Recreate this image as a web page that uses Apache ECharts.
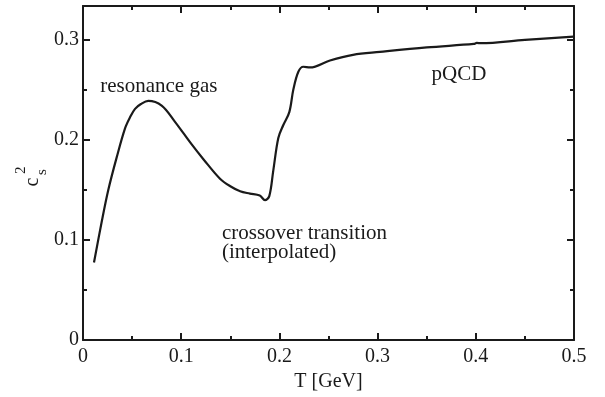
<!DOCTYPE html>
<html>
<head>
<meta charset="utf-8">
<script src="https://cdn.jsdelivr.net/npm/echarts@6/dist/echarts.min.js"></script>
<style>html,body{margin:0;padding:0;background:#fff}#c{width:605px;height:397px}</style>
</head>
<body>
<div id="c"></div>
<script>
// Data
const temperature = [0.0112, 0.019, 0.0258, 0.0343, 0.0428, 0.048, 0.053, 0.059, 0.0665, 0.0801, 0.0937, 0.1107, 0.123, 0.1395, 0.150, 0.16, 0.170, 0.180, 0.1853, 0.1897, 0.1938, 0.1989, 0.204, 0.2101, 0.2142, 0.2193, 0.2244, 0.2312, 0.2515, 0.275, 0.3024, 0.35, 0.398, 0.401, 0.405, 0.45, 0.4995];
const soundSpeedSq = [0.0774, 0.1178, 0.150, 0.1823, 0.2113, 0.2225, 0.2307, 0.2355, 0.2387, 0.234, 0.2178, 0.1952, 0.180, 0.161, 0.1535, 0.1485, 0.1462, 0.1442, 0.1397, 0.1436, 0.1694, 0.2017, 0.2146, 0.2275, 0.25, 0.2678, 0.2727, 0.272, 0.279, 0.2846, 0.2875, 0.292, 0.2955, 0.2965, 0.2962, 0.2995, 0.3027];
const xTicks = [0, 0.1, 0.2, 0.3, 0.4, 0.5];
const yTicks = [0, 0.1, 0.2, 0.3];
const annotations = [
  {text: 'resonance gas', x: 0.0175, y: 0.2535},
  {text: 'crossover transition', x: 0.1415, y: 0.1065},
  {text: '(interpolated)', x: 0.1415, y: 0.0875},
  {text: 'pQCD', x: 0.355, y: 0.2655}
];
const xName = 'T [GeV]';

const FONT = '"Liberation Serif", "Times New Roman", serif';
const INK = '#1a1a1a';
const pts = temperature.map((t, i) => [t, soundSpeedSq[i]]);

const chart = echarts.init(document.getElementById('c'), null, {renderer: 'canvas'});
const lbl = v => (v === 0 ? '0' : String(Math.round(v * 10) / 10));
const baseAxis = {
  axisLine: {show: true, onZero: false, lineStyle: {color: INK, width: 2}},
  axisTick: {show: true, inside: true, length: 7, lineStyle: {color: INK, width: 2}},
  minorTick: {show: true, splitNumber: 2, length: 4, lineStyle: {color: INK, width: 2}},
  splitLine: {show: false},
  minorSplitLine: {show: false}
};
chart.setOption({
  animation: false,
  backgroundColor: '#fff',
  grid: {left: 83, right: 31, top: 6, bottom: 47},
  xAxis: [
    Object.assign({}, baseAxis, {
      type: 'value', min: xTicks[0], max: xTicks[xTicks.length - 1], interval: 0.1,
      position: 'bottom', name: xName, nameLocation: 'middle', nameGap: 26,
      nameTextStyle: {fontFamily: FONT, fontSize: 20, color: INK},
      axisLabel: {fontFamily: FONT, fontSize: 20, color: INK, margin: 7, formatter: lbl}
    }),
    Object.assign({}, baseAxis, {
      type: 'value', min: xTicks[0], max: xTicks[xTicks.length - 1], interval: 0.1,
      position: 'top', axisLabel: {show: false}
    })
  ],
  yAxis: [
    Object.assign({}, baseAxis, {
      type: 'value', min: 0, max: 1 / 3, interval: 0.1,
      position: 'left',
      axisLabel: {fontFamily: FONT, fontSize: 20, color: INK, margin: 4, showMaxLabel: false, formatter: lbl}
    }),
    Object.assign({}, baseAxis, {
      type: 'value', min: 0, max: 1 / 3, interval: 0.1,
      position: 'right', axisLabel: {show: false}
    })
  ],
  series: [{
    type: 'line', data: pts, xAxisIndex: 0, yAxisIndex: 0,
    showSymbol: false, smooth: 0.35,
    lineStyle: {color: INK, width: 2.2}
  }]
});

const g = annotations.map(a => {
  const p = chart.convertToPixel({xAxisIndex: 0, yAxisIndex: 0}, [a.x, a.y]);
  return {type: 'text', x: p[0], y: p[1],
    style: {text: a.text, fontFamily: FONT, fontSize: 21, fill: INK, textAlign: 'left', textVerticalAlign: 'middle'}};
});
g.push({
  type: 'group', x: 33, y: 182, rotation: Math.PI / 2,
  children: [
    {type: 'text', x: 0, y: 0, style: {text: 'c', fontFamily: FONT, fontSize: 20, fill: INK, textAlign: 'center', textVerticalAlign: 'middle'}},
    {type: 'text', x: 7, y: 9, style: {text: 's', fontFamily: FONT, fontSize: 15, fill: INK, textAlign: 'left', textVerticalAlign: 'middle'}},
    {type: 'text', x: 8, y: -12, style: {text: '2', fontFamily: FONT, fontSize: 15, fill: INK, textAlign: 'left', textVerticalAlign: 'middle'}}
  ]
});
chart.setOption({graphic: g});
</script>
</body>
</html>
